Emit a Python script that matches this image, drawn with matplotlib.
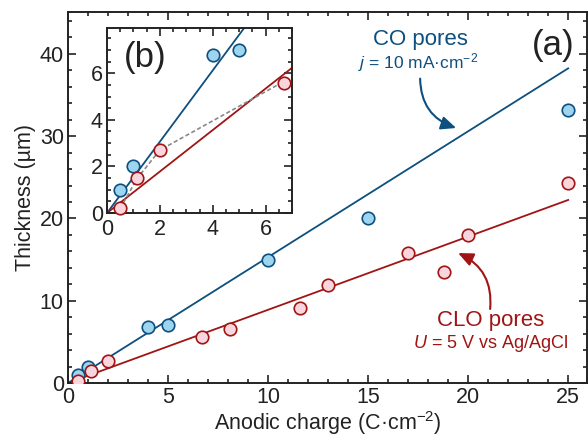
import matplotlib
matplotlib.use("Agg")
import matplotlib.pyplot as plt
from matplotlib.ticker import MultipleLocator

plt.rcParams['font.family'] = ['Liberation Sans', 'DejaVu Sans']
plt.rcParams['mathtext.fontset'] = 'custom'
plt.rcParams['mathtext.rm'] = 'Liberation Sans'
plt.rcParams['mathtext.it'] = 'Liberation Sans:italic'

# Data
co_x = [0.5, 1.0, 4.0, 5.0, 10.0, 15.0, 25.0]
co_y = [1.0, 2.0, 6.8, 7.0, 15.0, 20.1, 33.2]
clo_x = [0.5, 1.15, 2.0, 6.7, 8.1, 11.6, 13.0, 17.0, 18.8, 20.0, 25.0]
clo_y = [0.2, 1.5, 2.7, 5.6, 6.6, 9.1, 11.9, 15.8, 13.5, 18.0, 24.3]
co_slope = 1.53
clo_slope = 0.89
fit_x = [0, 25]
inset_fit_x = [0, 7]
inset_n = 4  # first points shown in inset
inset_dash_x = [0.5, 1.15, 2.0, 6.7]
inset_dash_y = [0.2, 1.5, 2.7, 5.65]

blue_line = '#0d4f7e'
blue_face = '#9dd5f0'
red_line = '#a01414'
red_face = '#f9d6de'
ink = '#222222'
fs = 15.5

fig = plt.figure(figsize=(5.88, 4.41), dpi=100)
ax = fig.add_axes([0.1156, 0.1315, 0.8830, 0.8413])

ax.plot(fit_x, [co_slope * v for v in fit_x], color=blue_line, lw=1.3, zorder=2)
ax.plot(fit_x, [clo_slope * v for v in fit_x], color=red_line, lw=1.3, zorder=2)
ax.plot(co_x, co_y, 'o', ms=9, mfc=blue_face, mec=blue_line, mew=1.2, zorder=3)
ax.plot(clo_x, clo_y, 'o', ms=9, mfc=red_face, mec=red_line, mew=1.2, zorder=3)

ax.set_xlim(0, 25.95)
ax.set_ylim(0, 45.1)
ax.xaxis.set_major_locator(MultipleLocator(5))
ax.xaxis.set_minor_locator(MultipleLocator(1))
ax.yaxis.set_major_locator(MultipleLocator(10))
ax.yaxis.set_minor_locator(MultipleLocator(2))
ax.tick_params(which='both', direction='in', top=True, right=True, width=1.2,
               labelsize=fs, color=ink, labelcolor=ink)
ax.tick_params(which='major', length=6, pad=3)
ax.tick_params(which='minor', length=3)
for s in ax.spines.values():
    s.set_linewidth(1.4)
    s.set_color(ink)
ax.set_xlabel('Anodic charge (C·cm$^{\u2212 2}$)', fontsize=fs, color=ink, labelpad=1)
ax.set_ylabel('Thickness (µm)', fontsize=fs, color=ink, labelpad=3)

ax.text(0.975, 0.955, '(a)', transform=ax.transAxes, ha='right', va='top',
        fontsize=25, color=ink)

ax.text(17.6, 41.7, 'CO pores', ha='center', va='center', fontsize=16, color=blue_line)
ax.text(17.5, 39.0, '$j$ = 10 mA·cm$^{\u2212 2}$', ha='center', va='center', fontsize=12.5,
        color=blue_line)
ax.annotate('', xy=(19.4, 31.0), xytext=(17.6, 37.0),
            arrowprops=dict(arrowstyle='-|>,head_length=0.9,head_width=0.4', color=blue_line,
                            lw=1.5, connectionstyle='arc3,rad=0.35', shrinkA=0, shrinkB=0))

ax.text(21.1, 7.6, 'CLO pores', ha='center', va='center', fontsize=16, color=red_line)
ax.text(21.15, 4.8, '$U$ = 5 V vs Ag/AgCl', ha='center', va='center', fontsize=13,
        color=red_line)
ax.annotate('', xy=(19.5, 15.8), xytext=(21.1, 9.0),
            arrowprops=dict(arrowstyle='-|>,head_length=0.9,head_width=0.4', color=red_line,
                            lw=1.5, connectionstyle='arc3,rad=0.35', shrinkA=0, shrinkB=0))

# Inset
axi = fig.add_axes([0.1820, 0.5170, 0.3146, 0.4200])
axi.plot(inset_fit_x, [co_slope * v for v in inset_fit_x], color=blue_line, lw=1.3, zorder=2)
axi.plot(inset_fit_x, [clo_slope * v for v in inset_fit_x], color=red_line, lw=1.3, zorder=2)
axi.plot(inset_dash_x, inset_dash_y, ls=(0, (2.5, 1.5)), color='#888888', lw=1.2, zorder=2)
axi.plot(co_x[:inset_n], co_y[:inset_n], 'o', ms=9, mfc=blue_face, mec=blue_line, mew=1.2, zorder=3)
axi.plot(clo_x[:inset_n], clo_y[:inset_n], 'o', ms=9, mfc=red_face, mec=red_line, mew=1.2,
         zorder=3, clip_on=False)
axi.set_xlim(0, 7)
axi.set_ylim(0, 7.95)
axi.xaxis.set_major_locator(MultipleLocator(2))
axi.xaxis.set_minor_locator(MultipleLocator(0.5))
axi.yaxis.set_major_locator(MultipleLocator(2))
axi.yaxis.set_minor_locator(MultipleLocator(0.5))
axi.tick_params(which='both', direction='in', top=True, right=True, width=1.2,
                labelsize=fs, color=ink, labelcolor=ink)
axi.tick_params(axis='x', pad=4)
axi.tick_params(axis='y', pad=3)
axi.tick_params(which='major', length=6)
axi.tick_params(which='minor', length=3)
for s in axi.spines.values():
    s.set_linewidth(1.4)
    s.set_color(ink)
axi.text(0.09, 0.93, '(b)', transform=axi.transAxes, ha='left', va='top',
         fontsize=25, color=ink)

fig.savefig('out.png', dpi=100)
